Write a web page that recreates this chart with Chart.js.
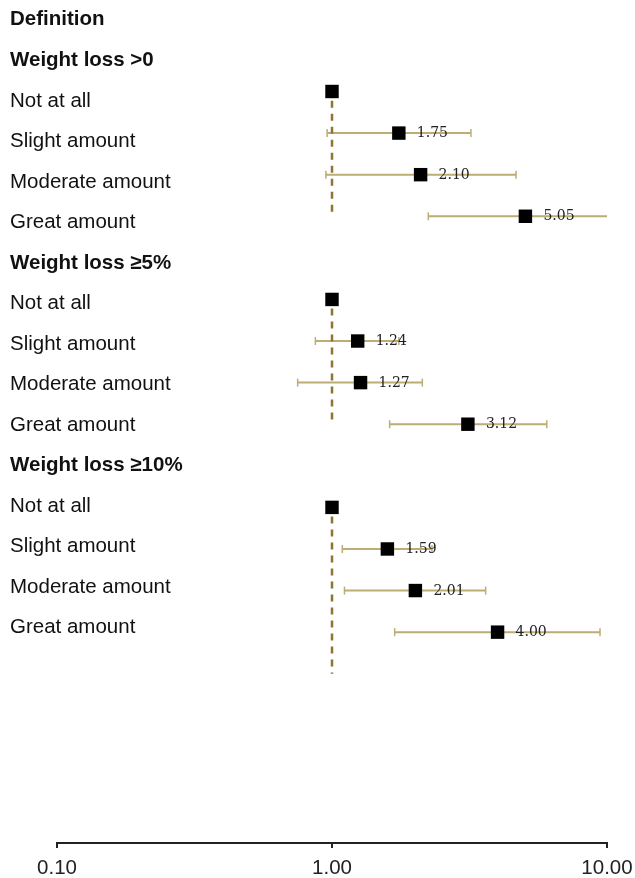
<!DOCTYPE html>
<html>
<head>
<meta charset="utf-8">
<script src="https://cdn.jsdelivr.net/npm/chart.js@4.4.0/dist/chart.umd.min.js"></script>
<style>
  html, body { margin: 0; padding: 0; background: #ffffff; }
  canvas { display: block; }
</style>
</head>
<body>
<canvas id="forest" width="635" height="878"></canvas>
<script>
// Table rows, top to bottom
const rowLabels = [
  "Definition",
  "Weight loss >0", "Not at all", "Slight amount", "Moderate amount", "Great amount",
  "Weight loss ≥5%", "Not at all", "Slight amount", "Moderate amount", "Great amount",
  "Weight loss ≥10%", "Not at all", "Slight amount", "Moderate amount", "Great amount"
];
const headerRows = [0, 1, 6, 11];
const referenceRows = [2, 7, 12];      // "Not at all" rows (reference category)

// Odds ratios with 95% confidence limits (null = no estimate on that row)
const estimates = [null, null, 1, 1.75, 2.10, 5.05, null, 1, 1.24, 1.27, 3.12, null, 1, 1.59, 2.01, 4.00];
const lowerCI   = [null, null, null, 0.96, 0.95, 2.24, null, null, 0.87, 0.75, 1.62, null, null, 1.09, 1.11, 1.69];
const upperCI   = [null, null, null, 3.20, 4.67, 10.6, null, null, 1.75, 2.13, 6.04, null, null, 2.31, 3.62, 9.43];

// Axis ticks
const xTicks = [0.1, 1, 10];

const SANS = '"Liberation Sans", Arial, Helvetica, sans-serif';
const SERIF = '"DejaVu Serif", "Liberation Serif", serif';
const CI_COLOR = '#bcad74';
const REF_COLOR = '#8e7534';

// Build the datasets from the arrays above
const markerPoints = [];
estimates.forEach((v, k) => { if (v != null) markerPoints.push({ x: v, y: k }); });

const ciSegments = [];
const capPoints = [];
lowerCI.forEach((lo, k) => {
  if (lo == null) return;
  ciSegments.push({ x: lo, y: k }, { x: upperCI[k], y: k }, { x: upperCI[k], y: null });
  capPoints.push({ x: lo, y: k }, { x: upperCI[k], y: k });
});

// Dashed line of no effect (OR = 1), one stretch per definition block
const groupEnds = [5, 10, 16];
const refSegments = [];
referenceRows.forEach((r, i) => {
  refSegments.push({ x: 1, y: r + 0.22 }, { x: 1, y: groupEnds[i] }, { x: 1, y: null });
});

// Left-hand text column
const rowLabelPlugin = {
  id: 'rowLabels',
  afterDatasetsDraw(chart) {
    const { ctx, scales } = chart;
    const yl = scales.yLab;
    ctx.save();
    ctx.fillStyle = '#111111';
    ctx.textAlign = 'left';
    ctx.textBaseline = 'alphabetic';
    rowLabels.forEach((t, k) => {
      const bold = headerRows.includes(k);
      ctx.font = (bold ? 'bold ' : '') + '20.5px ' + SANS;
      ctx.fillText(t, 10, yl.getPixelForValue(k));
    });
    ctx.restore();
  }
};

// Estimate printed beside each square
const valueLabelPlugin = {
  id: 'valueLabels',
  afterDatasetsDraw(chart) {
    const { ctx, scales } = chart;
    ctx.save();
    ctx.font = '14px ' + SERIF;
    ctx.fillStyle = '#222222';
    ctx.textAlign = 'left';
    ctx.textBaseline = 'middle';
    estimates.forEach((v, k) => {
      if (v == null || lowerCI[k] == null) return;
      ctx.fillText(v.toFixed(2), scales.x.getPixelForValue(v) + 18, scales.y.getPixelForValue(k) + 0.5);
    });
    ctx.restore();
  }
};

new Chart(document.getElementById('forest'), {
  type: 'line',
  data: {
    datasets: [
      {
        label: 'Odds ratio',
        type: 'scatter',
        data: markerPoints,
        pointStyle: 'rect',
        pointRadius: 9.5,
        pointBackgroundColor: '#000000',
        pointBorderWidth: 0,
        order: 0
      },
      {
        label: 'OR = 1',
        data: refSegments,
        borderColor: REF_COLOR,
        borderWidth: 2.5,
        borderDash: [7, 6],
        pointRadius: 0,
        spanGaps: false,
        order: 1
      },
      {
        label: 'CI caps',
        type: 'scatter',
        data: capPoints,
        pointStyle: 'line',
        rotation: 90,
        pointRadius: 4,
        pointBorderWidth: 1.5,
        pointBorderColor: CI_COLOR,
        order: 2
      },
      {
        label: '95% CI',
        data: ciSegments,
        borderColor: CI_COLOR,
        borderWidth: 2,
        pointRadius: 0,
        spanGaps: false,
        order: 3
      }
    ]
  },
  options: {
    responsive: false,
    devicePixelRatio: 1,
    animation: false,
    events: [],
    layout: { autoPadding: false, padding: { left: 57, right: 28, top: 0, bottom: 0 } },
    plugins: { legend: { display: false }, tooltip: { enabled: false }, title: { display: false } },
    scales: {
      x: {
        type: 'logarithmic',
        position: 'bottom',
        min: 0.1,
        max: 10,
        afterBuildTicks(scale) { scale.ticks = xTicks.map(v => ({ value: v })); },
        afterFit(scale) {
          scale.height = 35;
          scale.paddingLeft = 0;
          scale.paddingRight = 0;
        },
        ticks: {
          autoSkip: false,
          maxRotation: 0,
          padding: 10,
          color: '#222222',
          font: { family: SANS, size: 20.5, lineHeight: 1 },
          callback: (v) => Number(v).toFixed(2)
        },
        grid: { display: true, drawOnChartArea: false, drawTicks: true, tickLength: 5, color: '#222222', lineWidth: 2 },
        border: { display: true, color: '#222222', width: 2 }
      },
      y: { type: 'linear', display: false, reverse: true, min: -0.2, max: 20.07 },
      yLab: { type: 'linear', display: false, reverse: true, min: -0.629, max: 20.17 }
    }
  },
  plugins: [rowLabelPlugin, valueLabelPlugin]
});
</script>
</body>
</html>
